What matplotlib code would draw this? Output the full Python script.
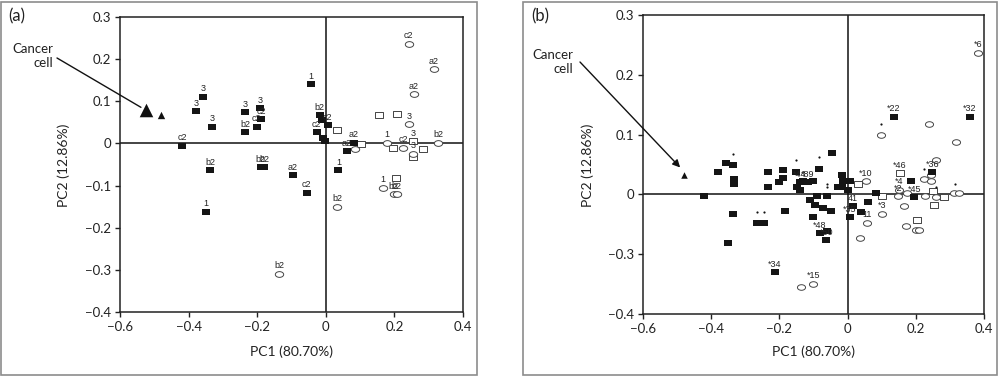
import numpy as np
import matplotlib
matplotlib.use('Agg')
import matplotlib.pyplot as plt
from matplotlib.path import Path
from matplotlib.transforms import Affine2D
from matplotlib.patches import Rectangle

# ---------------- panel (a) data ----------------
a_filled_x = [-0.357, -0.378, -0.331, -0.419, -0.337, -0.235, -0.235, -0.191, -0.188, -0.202,
              -0.044, -0.018, -0.012, 0.005, -0.027, -0.009, -0.003, 0.081, 0.061,
              -0.190, -0.180, -0.097, 0.037, -0.056, -0.349]
a_filled_y = [0.110, 0.076, 0.040, -0.005, -0.064, 0.074, 0.026, 0.083, 0.057, 0.040,
              0.140, 0.067, 0.055, 0.043, 0.026, 0.012, 0.005, 0.002, -0.019,
              -0.057, -0.057, -0.076, -0.064, -0.117, -0.162]
a_filled_lab = ['3', '3', '3', 'c2', 'b2', '3', 'b2', '3', 'c2', 'c2',
                '1', 'b2', '', 'c2', 'c2', '', '', 'a2', 'a2',
                'b2', 'b2', 'a2', '1', 'c2', '1']

a_osq_x = [0.034, 0.102, 0.154, 0.207, 0.195, 0.254, 0.254, 0.283, 0.204]
a_osq_y = [0.033, -0.002, 0.067, 0.071, -0.010, 0.005, -0.033, -0.014, -0.083]
a_osq_lab = ['', '', '', '', '', '3', '', '', '']

a_circ_x = [0.084, 0.242, 0.315, 0.257, 0.242, 0.178, 0.225, 0.254, 0.327, 0.166,
            0.198, 0.207, 0.034, -0.135]
a_circ_y = [-0.014, 0.236, 0.176, 0.117, 0.045, 0.002, -0.010, -0.024, 0.002, -0.105,
            -0.121, -0.121, -0.150, -0.310]
a_circ_lab = ['', 'c2', 'a2', 'a2', '3', '1', 'c2', '3', 'b2', '1',
              'b2', 'b2', 'b2', 'b2']

a_cancer_x = [-0.525, -0.480]
a_cancer_y = [0.079, 0.067]

a_xticks = [-0.6, -0.4, -0.2, 0.0, 0.2, 0.4]
a_xticklabels = ['\u22120.6', '\u22120.4', '\u22120.2', '0', '0.2', '0.4']
a_yticks = [-0.4, -0.3, -0.2, -0.1, 0.0, 0.1, 0.2, 0.3]
a_yticklabels = ['\u22120.4', '\u22120.3', '\u22120.2', '\u22120.1', '0', '0.1', '0.2', '0.3']

# ---------------- panel (b) data ----------------
b_filled_x = [-0.421, -0.380, -0.357, -0.336, -0.333, -0.333, -0.336, -0.351, -0.266, -0.245,
              -0.213, -0.233, -0.233, -0.201, -0.189, -0.189, -0.185, -0.151, -0.148, -0.140,
              -0.131, -0.116, -0.101, -0.140, -0.084, -0.046, -0.028, -0.110, -0.096, -0.090,
              -0.060, -0.072, -0.049, -0.101, -0.081, -0.060, -0.063, -0.016, -0.013, 0.007,
              -0.016, 0.001, 0.016, 0.007, 0.060, 0.083, 0.136, 0.359, 0.248, 0.186, 0.195,
              0.038]
b_filled_y = [-0.003, 0.037, 0.053, 0.050, 0.025, 0.017, -0.032, -0.082, -0.047, -0.048,
              -0.130, 0.037, 0.012, 0.020, 0.040, 0.027, -0.028, 0.038, 0.012, 0.020,
              0.022, 0.020, 0.022, 0.007, 0.043, 0.070, 0.012, -0.010, -0.017, -0.003,
              -0.003, -0.022, -0.027, -0.038, -0.065, -0.062, -0.077, 0.033, 0.022, 0.022,
              0.012, 0.008, -0.020, -0.038, -0.012, 0.002, 0.130, 0.130, 0.037, 0.023, -0.005,
              -0.030]
b_filled_lab = ['', '', '', '', '', '', '', '', '', '',
                '*34', '', '', '', '', '', '', '', '', '*44',
                '', '*89', '', '', '', '', '', '', '', '',
                '', '', '', '', '*48', '', '*50', '', '', '',
                '', '', '41', '*35', '', '', '*22', '*32', '*36', '', '*45',
                '']

b_osq_x = [0.030, 0.101, 0.154, 0.204, 0.250, 0.253, 0.283]
b_osq_y = [0.017, -0.003, 0.035, -0.042, 0.005, -0.017, -0.005]
b_osq_lab = ['', '', '*46', '', '', '', '']

b_circ_x = [-0.137, -0.101, 0.054, 0.382, 0.239, 0.098, 0.318, 0.259, 0.057, 0.101,
            0.036, 0.171, 0.201, 0.209, 0.165, 0.151, 0.148, 0.174, 0.224, 0.245,
            0.245, 0.227, 0.259, 0.312, 0.327]
b_circ_y = [-0.155, -0.150, 0.022, 0.237, 0.117, 0.100, 0.087, 0.057, -0.048, -0.032,
            -0.073, -0.053, -0.060, -0.060, -0.020, 0.008, -0.003, 0.003, 0.025, 0.022,
            0.033, -0.003, -0.005, 0.002, 0.003]
b_circ_lab = ['', '*15', '*10', '*6', '', '', '', '', '11', '*3',
              '', '', '', '', '', '*4', '*2', '', '', '',
              '', '', '', '', '']

b_dot_x = [-0.336, -0.266, -0.245, -0.151, -0.084, -0.061, -0.061, 0.098, 0.315, 0.224, 0.259]
b_dot_y = [0.068, -0.030, -0.030, 0.057, 0.062, 0.017, 0.012, 0.118, 0.018, 0.043, 0.013]

b_cancer_x = [-0.480]
b_cancer_y = [0.033]

b_xticks = a_xticks
b_xticklabels = a_xticklabels
# the y axis of panel (b) is drawn with evenly spaced ticks but skips -0.1/-0.2
b_yticks = [-0.2, -0.1, 0.0, 0.1, 0.2, 0.3]
b_yticklabels = ['\u22120.4', '\u22120.3', '0', '0.1', '0.2', '0.3']

# ---------------- markers ----------------
rect_marker = Path([(-1.3, -1), (1.3, -1), (1.3, 1), (-1.3, 1), (-1.3, -1)],
                   [Path.MOVETO, Path.LINETO, Path.LINETO, Path.LINETO, Path.CLOSEPOLY])
oval_marker = Path.unit_circle().transformed(Affine2D().scale(1.45, 1.0))

LABEL_FONT = dict(family=['Liberation Sans', 'DejaVu Sans'], fontsize=6.5, color='#222222')
AXIS_FONT = ['Lato', 'DejaVu Sans']


def draw_points(ax, xs, ys, labels, kind, size):
    """scatter one group of points and write its labels just above each marker"""
    if kind == 'filled':
        ax.scatter(xs, ys, marker=rect_marker, s=size, c='#151515', linewidths=0, zorder=4)
    elif kind == 'osq':
        ax.scatter(xs, ys, marker=rect_marker, s=size, facecolors='white',
                   edgecolors='#444444', linewidths=0.7, zorder=3)
    else:
        ax.scatter(xs, ys, marker=oval_marker, s=size, facecolors='white',
                   edgecolors='#444444', linewidths=0.7, zorder=3)
    for x, y, lab in zip(xs, ys, labels):
        if lab:
            ax.annotate(lab, (x, y), xytext=(0, 2.6), textcoords='offset points',
                        ha='center', va='bottom', zorder=5, **LABEL_FONT)


def style_axes(ax, xticks, xlabels, yticks, ylabels, ylim):
    ax.set_xlim(-0.6, 0.4)
    ax.set_ylim(*ylim)
    ax.set_xticks(xticks)
    ax.set_xticklabels(xlabels)
    ax.set_yticks(yticks)
    ax.set_yticklabels(ylabels)
    ax.axhline(0, color='#111111', lw=1.1, zorder=1)
    ax.axvline(0, color='#111111', lw=1.1, zorder=1)
    for sp in ax.spines.values():
        sp.set_linewidth(1.1)
        sp.set_color('#222222')
    ax.tick_params(direction='out', length=3.5, width=1.0, pad=3, labelsize=9.5,
                   colors='#222222')
    for t in ax.get_xticklabels() + ax.get_yticklabels():
        t.set_family(AXIS_FONT)


fig = plt.figure(figsize=(10, 3.76), dpi=100)
W, H = 1000.0, 376.0

# panel frames
for x0, x1 in [(1, 477), (523, 997)]:
    fig.add_artist(Rectangle((x0 / W, 1.5 / H), (x1 - x0) / W, (374 - 1.5) / H,
                             transform=fig.transFigure, fill=False,
                             edgecolor='#8c8c8c', lw=1.2))

# ---------- (a) ----------
ax1 = fig.add_axes([120 / W, 1 - 312 / H, 343 / W, 295 / H])
style_axes(ax1, a_xticks, a_xticklabels, a_yticks, a_yticklabels, (-0.4, 0.3))
draw_points(ax1, a_osq_x, a_osq_y, a_osq_lab, 'osq', 30)
draw_points(ax1, a_circ_x, a_circ_y, a_circ_lab, 'circ', 36)
draw_points(ax1, a_filled_x, a_filled_y, a_filled_lab, 'filled', 33)
ax1.scatter(a_cancer_x[:1], a_cancer_y[:1], marker='^', s=95, c='#111111', linewidths=0, zorder=4)
ax1.scatter(a_cancer_x[1:], a_cancer_y[1:], marker='^', s=28, c='#111111', linewidths=0, zorder=4)
ax1.annotate('', xy=(a_cancer_x[0], a_cancer_y[0]), xytext=(57 / W, 1 - 58 / H),
             textcoords='figure fraction', annotation_clip=False,
             arrowprops=dict(arrowstyle='-', lw=1.0, color='#111111', shrinkA=0, shrinkB=4))

# ---------- (b) ----------
ax2 = fig.add_axes([643 / W, 1 - 314 / H, 341 / W, 299 / H])
style_axes(ax2, b_xticks, b_xticklabels, b_yticks, b_yticklabels, (-0.2, 0.3))
draw_points(ax2, b_osq_x, b_osq_y, b_osq_lab, 'osq', 28)
draw_points(ax2, b_circ_x, b_circ_y, b_circ_lab, 'circ', 34)
draw_points(ax2, b_filled_x, b_filled_y, b_filled_lab, 'filled', 30)
ax2.scatter(b_dot_x, b_dot_y, marker='o', s=2.5, c='#111111', linewidths=0, zorder=4)
ax2.scatter(b_cancer_x, b_cancer_y, marker='^', s=22, c='#111111', linewidths=0, zorder=4)
ax2.annotate('', xy=(-0.491, 0.045), xytext=(580 / W, 1 - 62 / H),
             textcoords='figure fraction', annotation_clip=False,
             arrowprops=dict(arrowstyle='-|>', mutation_scale=11, lw=1.0,
                             color='#111111', shrinkA=0, shrinkB=0))

# texts
txt = dict(family=AXIS_FONT, color='#222222')
fig.text(8 / W, 1 - 8 / H, '(a)', ha='left', va='top', fontsize=12, **txt)
fig.text(531 / W, 1 - 8 / H, '(b)', ha='left', va='top', fontsize=12, **txt)
fig.text(53 / W, 1 - 56 / H, 'Cancer\ncell', ha='right', va='center',
         multialignment='right', fontsize=9.5, linespacing=1.15, **txt)
fig.text(573 / W, 1 - 62 / H, 'Cancer\ncell', ha='right', va='center',
         multialignment='right', fontsize=9.5, linespacing=1.15, **txt)
fig.text(291 / W, 1 - 352 / H, 'PC1 (80.70%)', ha='center', va='center', fontsize=10, **txt)
fig.text(813 / W, 1 - 352 / H, 'PC1 (80.70%)', ha='center', va='center', fontsize=10, **txt)
fig.text(64 / W, 1 - 165 / H, 'PC2 (12.86%)', ha='center', va='center',
         rotation=90, fontsize=10, **txt)
fig.text(588 / W, 1 - 165 / H, 'PC2 (12.86%)', ha='center', va='center',
         rotation=90, fontsize=10, **txt)

fig.savefig('out.png', dpi=100)
